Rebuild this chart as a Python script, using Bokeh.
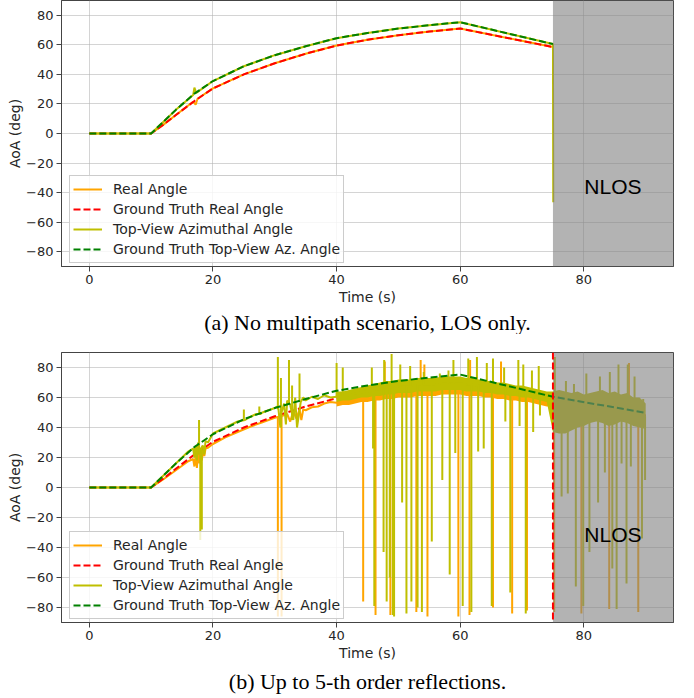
from bokeh.plotting import figure
from bokeh.models import (Range1d, FixedTicker, CustomJSTickFormatter, BoxAnnotation,
                          Label, Span, Legend, LegendItem)
from bokeh.layouts import column
from bokeh.embed import file_html
from bokeh.resources import INLINE

# ---------------- data ----------------
x_ticks = [0, 20, 40, 60, 80]
y_ticks = [-80, -60, -40, -20, 0, 20, 40, 60, 80]

# ground truth (both panels)
gt_time = [0, 10, 12, 14, 17, 20, 25, 30, 35, 40, 45, 50, 55, 60, 75, 90]
gt_real = [0, 0, 6, 12.5, 22, 30.5, 40, 47.5, 54, 59.5, 63.5, 66.5, 69, 71, 58.5, 48]
gt_az = [0, 0, 8, 16, 27, 35.5, 45.5, 53, 59, 64.5, 68, 71, 73.3, 75.3, 60.5, 49.8]

# (a) LOS only measurements
top_real_t = [0, 10, 12, 14, 16.8, 17.2, 17.5, 20, 25, 30, 35, 40, 45, 50, 55, 60, 75]
top_real_v = [0, 0, 6, 12.5, 21.5, 19.5, 23.5, 30.5, 40, 47.5, 54, 59.5, 63.5, 66.5, 69, 71, 58.5]
top_az_t = [0, 10, 12, 14, 16.8, 17.0, 17.3, 20, 25, 30, 35, 40, 45, 50, 55, 60, 75, 75.05]
top_az_v = [0, 0, 8, 16, 26, 31, 27.5, 35.5, 45.5, 53, 59, 64.5, 68, 71, 73.3, 75.3, 60.5, -46.5]

# (b) multipath measurements
# early (smooth / lightly noisy) part of the traces
real_early_t = [0, 10, 12, 14, 16, 16.8, 17.0, 17.2, 17.4, 17.6, 17.8, 18.0, 18.2, 18.4, 18.6,
                18.8, 19.2, 20, 22, 24, 26, 28, 30, 31, 32, 32.5, 33, 33.5, 34, 34.3, 34.6, 35,
                36, 37, 38, 39]
real_early_v = [0, 0, 5.5, 11.5, 17.5, 19, 14, 21, 13, 23, 16, 24, 18, 25, 21, 26, 26.5, 29,
                33.5, 37, 40.5, 43.5, 46.5, 47.5, 49, 44, 51, 46, 52, 45, 52, 51.5, 53.5, 54, 56,
                57]
az_early_t = [0, 10, 12, 14, 16, 16.8, 17.0, 17.2, 17.4, 17.6, 17.85, 18.05, 18.35, 18.6, 18.8,
              19.2, 20, 21, 22, 23, 24, 25.2, 26, 27, 27.7, 28, 29, 30, 30.4, 30.6, 30.9, 31.1,
              31.5, 31.8, 32.0, 32.5, 33.0, 33.3, 33.6, 34.2, 34.6, 35, 36, 37, 38, 39]
az_early_v = [0, 0, 8, 16, 24, 26, 20, 28, 18, 30, 22, 26, 28, 22, 31, 30, 36, 38, 40, 42, 44,
              45, 47, 49, 49, 50, 51.5, 53, 54, 52, 40, 50, 56, 42, 58, 55, 45, 60, 40, 57, 60,
              58, 60.5, 59, 61.5, 60]

# dense noisy part: envelope of the trace (lower / upper edge) per second
real_band_t = [40, 41, 42, 43, 44, 45, 46, 47, 48, 49, 50, 51, 52, 53, 54, 55, 56, 57, 58, 59,
               60, 61, 62, 63, 64, 65, 66, 67, 68, 69, 70, 71, 72, 73, 74, 75]
real_band_hi = [59, 60, 60, 61, 62, 62, 63, 63, 64, 64, 65, 65, 65, 66, 66, 66, 66, 67, 67, 67,
                67, 66, 66, 66, 65, 65, 64, 64, 63, 63, 62, 62, 61, 60, 59, 59]
real_band_lo = [54, 55, 55, 56, 57, 57, 58, 58, 59, 59, 60, 60, 60, 61, 61, 61, 61, 62, 62, 62,
                62, 61, 61, 61, 60, 60, 59, 59, 58, 58, 57, 57, 56, 55, 54, 54]
az_band_t = [40, 41, 42, 43, 44, 45, 46, 47, 48, 49, 50, 51, 52, 53, 54, 55, 56, 57, 58, 59,
             60, 61, 62, 63, 64, 65, 66, 67, 68, 69, 70, 71, 72, 73, 74, 75, 76, 77, 78, 79,
             80, 81, 82, 83, 84, 85, 86, 87, 88, 89, 90]
az_band_hi = [64, 64, 65, 66, 67, 68, 69, 70, 71, 71, 72, 72, 72, 73, 73, 73, 73, 74, 74, 74,
              74, 73, 73, 72, 71, 71, 70, 70, 69, 68, 68, 67, 66, 65, 64, 64, 65, 64, 63, 64,
              62, 63, 64, 65, 63, 64, 62, 63, 60, 60, 56]
az_band_lo = [57, 58, 58, 59, 60, 60, 61, 61, 62, 62, 63, 63, 63, 64, 64, 64, 64, 65, 65, 65,
              65, 64, 64, 64, 63, 63, 62, 62, 61, 61, 60, 60, 59, 58, 57, 37, 36, 36, 38, 40,
              41, 43, 44, 43, 41, 42, 44, 43, 41, 40, 39]

# outliers (spikes) of the traces
real_spike_t = [30.5, 31.1, 44.3, 46.3, 47.8, 48.7, 52.9, 53.6, 54.2, 54.7, 59.7, 61.5, 61.6,
                65.3, 66.6, 68.4, 70.8, 75.2, 79.6, 84.1, 87.3, 88.8]
real_spike_v = [-86, -86, -76, -85, 84, -85, -83, 85, 82, -86, -86, -85, 85, -80, 84, -84, -82,
                -83, -84, -81, 83, -83]
az_spike_t = [17.75, 17.95, 18.2, 25.0, 27.5, 30.5, 31.0, 32.3, 32.8, 34.0, 40.0, 41.0, 45.7,
              45.9, 46.1, 47.6, 47.7, 48.1, 48.6, 48.9, 49.1, 49.3, 50.3, 50.6, 51.3, 51.9, 52.1,
              53.1, 53.8, 54.1, 55.4, 56.7, 57.1, 58.1, 58.3, 58.9, 59.2, 60.4, 61.3, 61.8, 62.7,
              62.9, 63.8, 64.3, 65.1, 65.3, 67.1, 67.3, 68.1, 69.4, 69.6, 70.2, 70.6, 71.6, 71.8,
              72.7, 72.9, 75.3, 76.4, 77.1, 77.4, 78.4, 78.7, 79.9, 80.4, 80.9, 82.3, 82.6, 83.4,
              84.2, 84.6, 85.3, 85.6, 86.1, 86.9, 87.1, 87.6, 88.2, 89.4, 89.6, 89.9]
az_spike_v = [45, -35, -28, 52, 54, 87, 73, 85, 68, 76, 83, 80, 80, 26, -79, -43, 85, -76, -60,
              89, -85, -86, 82, -10, -84, 81, -76, -80, -83, 77, -36, 76, 5, 78, -58, 85, 23,
              -79, 86, -83, 87, 24, 26, 83, -79, 86, 80, 44, -70, 85, 41, 82, -84, 78, 37, 81,
              48, 87, -6, 71, -4, 69, -66, -79, 76, -43, -10, 74, 10, 77, -54, -81, 82, 16, -64,
              82, 14, 74, -34, 59, 5]

nlos_start = 75
nlos_label_x = 84.7
nlos_label_y = [-36, -31]
labels = ["Real Angle", "Ground Truth Real Angle", "Top-View Azimuthal Angle",
          "Ground Truth Top-View Az. Angle"]
captions = ["(a) No multipath scenario, LOS only.", "(b) Up to 5-th order reflections."]

ORANGE = "#ffa500"
RED = "#ff0000"
OLIVE = "#bfbf00"
GREEN = "#008000"
TICK_FMT = CustomJSTickFormatter(code="return tick < 0 ? '\u2212' + Math.abs(tick) : '' + tick;")


def mid(lo, hi):
    return [(a + b) / 2 for a, b in zip(lo, hi)]


def nearest(ts, vs, t):
    i = min(range(len(ts)), key=lambda k: abs(ts[k] - t))
    return vs[i]


# assembled bottom traces
bot_real_t = real_early_t + real_band_t
bot_real_v = real_early_v + mid(real_band_lo, real_band_hi)
bot_az_t = az_early_t + az_band_t
bot_az_v = az_early_v + mid(az_band_lo, az_band_hi)
real_spike_base = [nearest(bot_real_t + az_band_t[36:], bot_real_v + mid(az_band_lo, az_band_hi)[36:], t)
                   for t in real_spike_t]
az_spike_base = [nearest(bot_az_t, bot_az_v, t) for t in az_spike_t]


def style_axes(p):
    for ax in (p.xaxis[0], p.yaxis[0]):
        ax.major_label_text_font = "DejaVu Sans"
        ax.major_label_text_font_size = "13px"
        ax.major_label_text_color = "#262626"
        ax.axis_label_text_font = "DejaVu Sans"
        ax.axis_label_text_font_size = "14px"
        ax.axis_label_text_font_style = "normal"
        ax.axis_label_text_color = "#262626"
        ax.axis_line_color = "#444444"
        ax.major_tick_line_color = "#444444"
        ax.major_tick_out = 5
        ax.major_tick_in = 0
        ax.minor_tick_line_color = None
        ax.major_label_standoff = 3
        ax.formatter = TICK_FMT
    p.xaxis[0].ticker = FixedTicker(ticks=x_ticks)
    p.yaxis[0].ticker = FixedTicker(ticks=y_ticks)
    p.xaxis[0].axis_label = "Time (s)"
    p.yaxis[0].axis_label = "AoA (deg)"
    p.xaxis[0].axis_label_standoff = 2
    p.yaxis[0].axis_label_standoff = 0
    p.outline_line_color = "#444444"
    p.outline_line_alpha = 1
    p.grid.grid_line_color = "#b0b0b0"
    p.grid.grid_line_alpha = 0.55
    p.grid.grid_line_width = 1
    p.xgrid.ticker = FixedTicker(ticks=x_ticks)
    p.ygrid.ticker = FixedTicker(ticks=y_ticks)


def make_fig(caption, min_top, frame_h, standoff):
    p = figure(frame_width=612, frame_height=frame_h, x_range=Range1d(-4.5, 94.5),
               y_range=Range1d(-90, 90), output_backend="svg", toolbar_location=None,
               min_border_left=61, min_border_right=10, min_border_top=min_top,
               min_border_bottom=0, title=caption, title_location="below")
    p.title.text_font = "Liberation Serif"
    p.title.text_font_size = "22px"
    p.title.text_font_style = "normal"
    p.title.align = "center"
    p.title.standoff = standoff
    p.title.text_color = "#000000"
    style_axes(p)
    return p


def finish(p, renderers, vline, label_y):
    p.add_layout(BoxAnnotation(left=nlos_start, fill_color="#808080", fill_alpha=0.6,
                               line_alpha=0))
    if vline:
        p.add_layout(Span(location=nlos_start, dimension="height", line_color=RED,
                          line_width=2, line_dash="7 3"))
    p.add_layout(Label(x=nlos_label_x, y=label_y, text="NLOS",
                       text_align="center", text_baseline="middle",
                       text_font="Liberation Sans", text_font_size="21px",
                       text_color="#000000"))
    legend = Legend(items=[LegendItem(label=lab, renderers=[r])
                           for lab, r in zip(labels, renderers)],
                    location=(8, 3))
    legend.label_text_font = "DejaVu Sans"
    legend.label_text_font_size = "14px"
    legend.label_text_color = "#262626"
    legend.label_height = 20
    legend.glyph_height = 20
    legend.glyph_width = 29
    legend.label_standoff = 11
    legend.spacing = 0
    legend.padding = 3
    legend.margin = 0
    legend.border_line_color = "#cccccc"
    legend.border_line_alpha = 1
    legend.background_fill_alpha = 0.8
    p.add_layout(legend)


# ---- panel (a)
p1 = make_fig(captions[0], 0, 266, 0)
a1 = p1.line(top_real_t, top_real_v, line_color=ORANGE, line_width=2)
a2 = p1.line(gt_time[:15], gt_real[:15], line_color=RED, line_width=2, line_dash="7 3")
a3 = p1.line(top_az_t, top_az_v, line_color=OLIVE, line_width=2)
a4 = p1.line(gt_time[:15], gt_az[:15], line_color=GREEN, line_width=2, line_dash="7 3")
finish(p1, [a1, a2, a3, a4], False, nlos_label_y[0])

# ---- panel (b)
p2 = make_fig(captions[1], 18, 270, 6)
p2.varea(x=real_band_t, y1=real_band_lo, y2=real_band_hi, fill_color=ORANGE)
b1 = p2.line(bot_real_t, bot_real_v, line_color=ORANGE, line_width=2)
p2.segment(x0=real_spike_t, y0=real_spike_base, x1=real_spike_t, y1=real_spike_v,
           line_color=ORANGE, line_width=2)
b2 = p2.line(gt_time, gt_real, line_color=RED, line_width=2, line_dash="7 3")
p2.varea(x=az_band_t, y1=az_band_lo, y2=az_band_hi, fill_color=OLIVE)
b3 = p2.line(bot_az_t, bot_az_v, line_color=OLIVE, line_width=2)
p2.segment(x0=az_spike_t, y0=az_spike_base, x1=az_spike_t, y1=az_spike_v,
           line_color=OLIVE, line_width=2)
b4 = p2.line(gt_time, gt_az, line_color=GREEN, line_width=2, line_dash="7 3")
finish(p2, [b1, b2, b3, b4], True, nlos_label_y[1])

layout = column(p1, p2, spacing=0)
open("out.html", "w").write(file_html(layout, INLINE))
